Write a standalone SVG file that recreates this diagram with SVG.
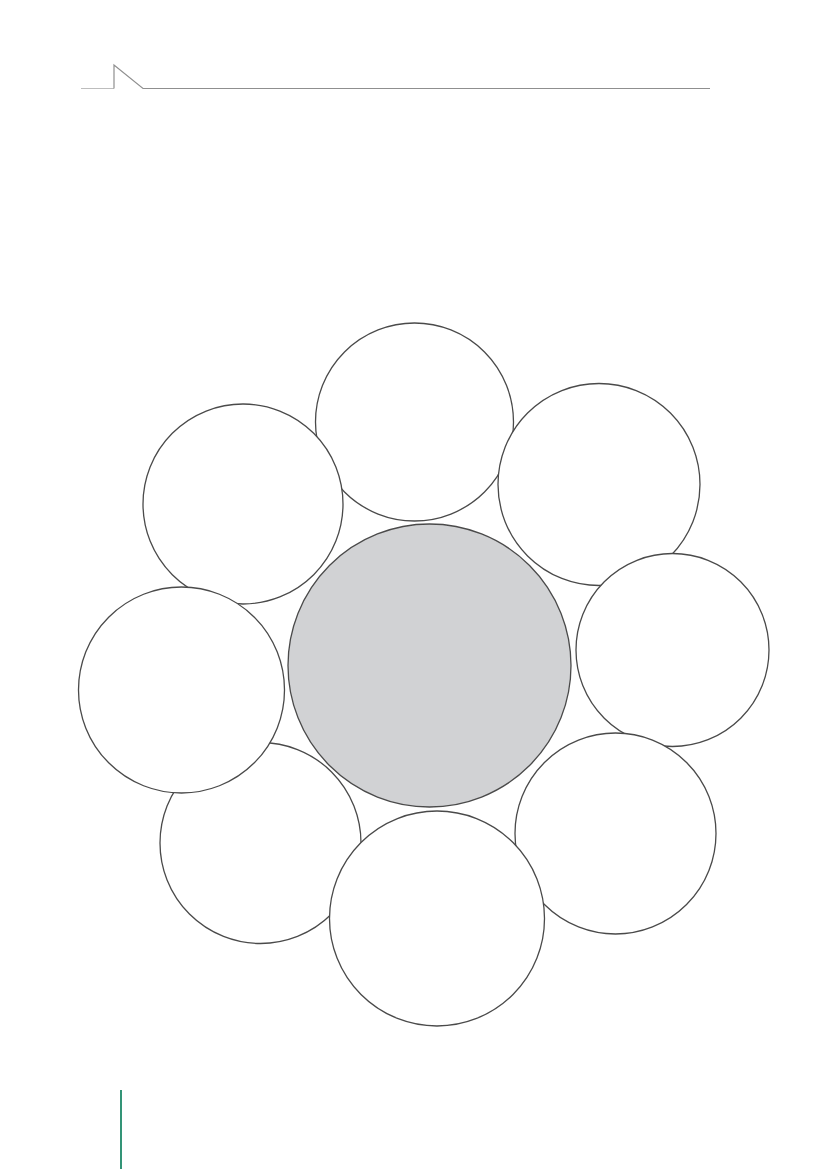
<svg xmlns="http://www.w3.org/2000/svg" width="827" height="1169" viewBox="0 0 827 1169">
<style>
.c{fill:#ffffff;stroke:#4a4a4a;stroke-width:1.3}
.hub{fill:#d1d2d4;stroke:#4a4a4a;stroke-width:1.3}
</style>
<rect width="827" height="1169" fill="#ffffff"/>
<g id="header">
<line x1="81" y1="88.5" x2="114" y2="88.5" stroke="#bdbdbd" stroke-width="1.2"/>
<polyline points="114,88.5 114,65 143,88.5 710,88.5" fill="none" stroke="#8f8f8f" stroke-width="1.2"/>
</g>
<g id="margin-line">
<line x1="121" y1="1090" x2="121" y2="1169" stroke="#007a55" stroke-width="1.6"/>
</g>
<g id="connectors"></g>
<g id="node-top"><circle class="c" cx="414.5" cy="422" r="99"/></g>
<g id="node-top-left"><circle class="c" cx="243" cy="504" r="100"/></g>
<g id="node-top-right"><circle class="c" cx="599" cy="484.5" r="101"/></g>
<g id="node-right"><circle class="c" cx="672.5" cy="650" r="96.5"/></g>
<g id="node-bottom-left"><circle class="c" cx="260.5" cy="843" r="100.5"/></g>
<g id="node-bottom-right"><circle class="c" cx="615.5" cy="833.5" r="100.5"/></g>
<g id="node-bottom"><circle class="c" cx="437" cy="918.5" r="107.5"/></g>
<g id="node-left"><circle class="c" cx="181.5" cy="690" r="103"/></g>
<g id="node-center"><circle class="hub" cx="429.5" cy="665.5" r="141.5"/></g>
</svg>
